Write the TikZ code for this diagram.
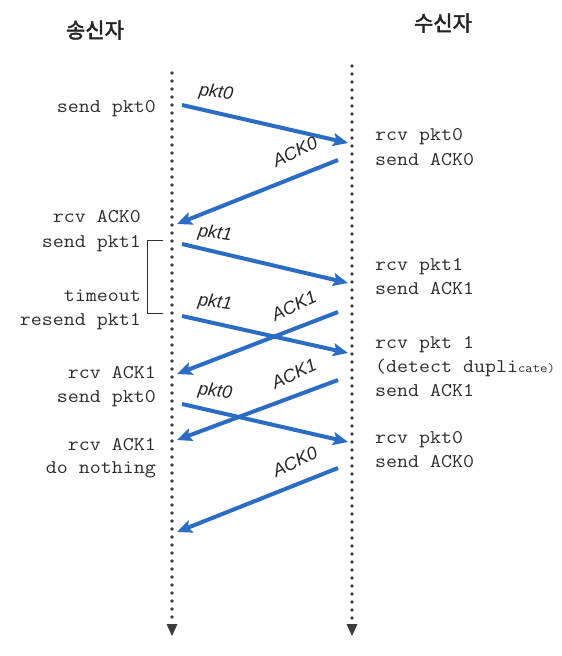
\documentclass[tikz,border=0pt]{standalone}
\usepackage{fontspec}
\setmonofont{Latin Modern Mono}[FakeStretch=1.1]
\newfontfamily\labfont{Liberation Sans}
\newfontfamily\krfont{Noto Sans CJK KR}[FakeBold=2.5]
\usetikzlibrary{arrows.meta}
\definecolor{arrowblue}{HTML}{2B6CC4}
\definecolor{ink}{HTML}{2E2E2E}
\definecolor{lifegray}{HTML}{3C3C3C}
\begin{document}
\begin{tikzpicture}[x=1pt,y=-1pt,
  lifeline/.style={lifegray,line width=3.6pt,line cap=round,dash pattern=on 0pt off 8pt},
  msg/.style={arrowblue,line width=4pt,-{Stealth[length=15pt,width=13pt,inset=3pt]}},
  evl/.style={font=\ttfamily\fontsize{19.4}{21}\selectfont,text=ink,inner sep=0pt,anchor=base east},
  evr/.style={font=\ttfamily\fontsize{19.4}{21}\selectfont,text=ink,inner sep=0pt,anchor=base west},
  lab/.style={font=\labfont\itshape\fontsize{18}{19}\selectfont,text=black!85,inner sep=0pt},
  title/.style={font=\krfont\fontsize{21}{23}\selectfont,text=black!85,inner sep=0pt},
  tri/.style={fill=lifegray,draw=none}]
\useasboundingbox (0,0) rectangle (562,656);
\fill[white] (0,0) rectangle (562,656);

% titles
\node[title] (tS) at (95,30) {송신자};
\node[title] (tR) at (443,23) {수신자};

% lifelines
\coordinate (sTop) at (172,73);
\coordinate (sBot) at (172,621);
\coordinate (rTop) at (352,66);
\coordinate (rBot) at (352,621);
\draw[lifeline] (sTop) -- (sBot);
\draw[lifeline] (rTop) -- (rBot);
\fill[tri] (166.5,624) -- (177.5,624) -- (172,636) -- cycle;
\fill[tri] (346.5,624) -- (357.5,624) -- (352,636) -- cycle;

% sender events
\node[evl] (e1) at (156,112) {send pkt0};
\node[evl] (e2) at (141,222) {rcv ACK0};
\node[evl] (e3) at (141,247) {send pkt1};
\node[evl] (e4) at (141,301) {timeout};
\node[evl] (e5) at (141,325) {resend pkt1};
\node[evl] (e6) at (156,378) {rcv ACK1};
\node[evl] (e7) at (156,402) {send pkt0};
\node[evl] (e8) at (156,450) {rcv ACK1};
\node[evl] (e9) at (156,473) {do nothing};

% receiver events
\node[evr] (r1) at (375,140) {rcv pkt0};
\node[evr] (r2) at (375,165) {send ACK0};
\node[evr] (r3) at (375,270) {rcv pkt1};
\node[evr] (r4) at (375,294) {send ACK1};
\node[evr] (r5) at (375,348) {rcv pkt 1};
\node[evr] (r6) at (375,372) {(detect dupli{\fontsize{13}{14}\selectfont cate)}};
\node[evr] (r7) at (375,396) {send ACK1};
\node[evr] (r8) at (375,443) {rcv pkt0};
\node[evr] (r9) at (375,467) {send ACK0};

% timeout bracket
\coordinate (bA) at (163,240);
\coordinate (bB) at (163,313);
\draw[ink,line width=1pt] (bA) -- (147,240) -- (147,313) -- (bB);

% message endpoints
\coordinate (a1s) at (182,105); \coordinate (a1e) at (348,143);
\coordinate (a2s) at (338,160); \coordinate (a2e) at (177,224);
\coordinate (a3s) at (182,244); \coordinate (a3e) at (348,283);
\coordinate (a4s) at (338,312); \coordinate (a4e) at (177,374);
\coordinate (a5s) at (182,316); \coordinate (a5e) at (348,353);
\coordinate (a6s) at (338,380); \coordinate (a6e) at (177,440);
\coordinate (a7s) at (182,404); \coordinate (a7e) at (348,442);
\coordinate (a8s) at (338,468); \coordinate (a8e) at (177,532);

\draw[msg] (a1s) -- (a1e);
\draw[msg] (a2s) -- (a2e);
\draw[msg] (a3s) -- (a3e);
\draw[msg] (a4s) -- (a4e);
\draw[msg] (a5s) -- (a5e);
\draw[msg] (a6s) -- (a6e);
\draw[msg] (a7s) -- (a7e);
\draw[msg] (a8s) -- (a8e);

% message labels
\node[lab,rotate=-8] (l1) at (216,93) {pkt0};
\node[lab,rotate=25] (l2) at (295,152) {ACK0};
\node[lab,rotate=-8] (l3) at (215,234) {pkt1};
\node[lab,rotate=25] (l4) at (294,306) {ACK1};
\node[lab,rotate=-8] (l5) at (215,303) {pkt1};
\node[lab,rotate=25] (l6) at (294,374) {ACK1};
\node[lab,rotate=-8] (l7) at (215,392) {pkt0};
\node[lab,rotate=25] (l8) at (295,462) {ACK0};
\end{tikzpicture}
\end{document}
